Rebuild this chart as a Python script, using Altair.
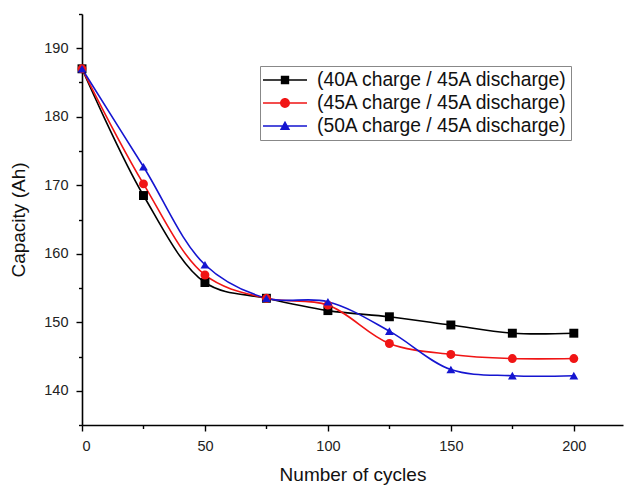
import altair as alt
import pandas as pd

# Capacity fade under three charge currents (discharge fixed at 45 A)
cycles = [0, 25, 50, 75, 100, 125, 150, 175, 200]
series_names = [
    "(40A charge / 45A discharge)",
    "(45A charge / 45A discharge)",
    "(50A charge / 45A discharge)",
]
cap_40a = [187.0, 168.5, 155.8, 153.5, 151.7, 150.8, 149.6, 148.4, 148.4]
cap_45a = [187.0, 170.2, 156.9, 153.5, 152.5, 146.9, 145.3, 144.7, 144.7]
cap_50a = [187.0, 172.7, 158.4, 153.5, 153.0, 148.7, 143.1, 142.2, 142.2]

colors = ["#000000", "#f01515", "#1515d0"]
marker_shapes = ["square", "circle", "triangle-up"]
marker_sizes = [80, 78, 110]

# Legend glyphs (unit = half the symbol width): line segment with the marker on it
legend_glyphs = [
    "M-2,-0.07H2V0.07H-2Z M-0.38,-0.38H0.38V0.38H-0.38Z",
    "M-2,-0.07H2V0.07H-2Z M0.45,0 A0.45,0.45 0 1,1 -0.45,0 A0.45,0.45 0 1,1 0.45,0 Z",
    "M-2,-0.07H2V0.07H-2Z M0,-0.48 L0.47,0.36 L-0.47,0.36 Z",
]

rows = []
for name, values in zip(series_names, [cap_40a, cap_45a, cap_50a]):
    for c, v in zip(cycles, values):
        rows.append({"cycles": c, "capacity": v, "series": name})
df = pd.DataFrame(rows)

FONT = "Liberation Sans"

tick_size_x = {"condition": {"test": "datum.value % 50 !== 0", "value": 3.5}, "value": 6}
tick_size_y = {"condition": {"test": "datum.value % 10 !== 0", "value": 3.5}, "value": 6}

x_enc = alt.X(
    "cycles:Q",
    scale=alt.Scale(domain=[0, 220], nice=False, zero=False),
    axis=alt.Axis(
        title="Number of cycles",
        values=[0, 25, 50, 75, 100, 125, 150, 175, 200],
        labelExpr="datum.value % 50 === 0 ? datum.label : ''",
        tickSize=tick_size_x,
        titlePadding=13,
    ),
)
y_enc = alt.Y(
    "capacity:Q",
    scale=alt.Scale(domain=[135, 195], nice=False, zero=False),
    axis=alt.Axis(
        title="Capacity (Ah)",
        values=[135, 140, 145, 150, 155, 160, 165, 170, 175, 180, 185, 190, 195],
        labelExpr="datum.value % 10 === 0 ? datum.label : ''",
        tickSize=tick_size_y,
        titlePadding=15,
    ),
)

color_scale = alt.Scale(domain=series_names, range=colors)

lines = alt.Chart(df).mark_line(interpolate="catmull-rom", strokeWidth=1.6).encode(
    x=x_enc,
    y=y_enc,
    color=alt.Color("series:N", scale=color_scale, legend=None),
    detail="series:N",
)

points = alt.Chart(df).mark_point(filled=True, opacity=1).encode(
    x=x_enc,
    y=y_enc,
    color=alt.Color("series:N", scale=color_scale, legend=None),
    shape=alt.Shape(
        "series:N",
        scale=alt.Scale(domain=series_names, range=marker_shapes),
        legend=None,
    ),
    size=alt.Size(
        "series:N",
        scale=alt.Scale(domain=series_names, range=marker_sizes),
        legend=None,
    ),
)

legend_layer = (
    alt.Chart(df)
    .transform_filter("false")
    .mark_point(filled=True, opacity=1)
    .encode(
        x=x_enc,
        y=y_enc,
        color=alt.Color(
            "series:N",
            scale=color_scale,
            legend=alt.Legend(
                title=None,
                orient="none",
                legendX=178,
                legendY=52,
                symbolSize=484,
                symbolOffset=11,
                symbolStrokeWidth=0,
                symbolOpacity=1,
                labelFont=FONT,
                labelFontSize=19.3,
                labelColor="#111111",
                labelOffset=21,
                labelLimit=0,
                rowPadding=1,
                padding=3,
                strokeColor="#888888",
                fillColor="white",
            ),
        ),
        shape=alt.Shape(
            "series:N",
            scale=alt.Scale(domain=series_names, range=legend_glyphs),
        ),
    )
)

chart = (
    alt.layer(lines, points, legend_layer)
    .resolve_scale(color="independent", shape="independent", size="independent")
    .properties(
        width=541,
        height=411,
        autosize=alt.AutoSizeParams(type="none"),
        padding={"left": 82, "top": 14, "right": 2, "bottom": 61},
        background="white",
    )
    .configure_view(stroke=None)
    .configure_axis(
        grid=False,
        domainColor="#000000",
        domainWidth=1.6,
        tickColor="#000000",
        tickWidth=1.4,
        labelFont=FONT,
        labelFontSize=14.5,
        labelColor="#222222",
        labelPadding=8,
        titleFont=FONT,
        titleFontSize=19,
        titleFontWeight="normal",
        titleColor="#111111",
    )
)

chart.save("out.html", embed_options={"renderer": "svg", "actions": False})
